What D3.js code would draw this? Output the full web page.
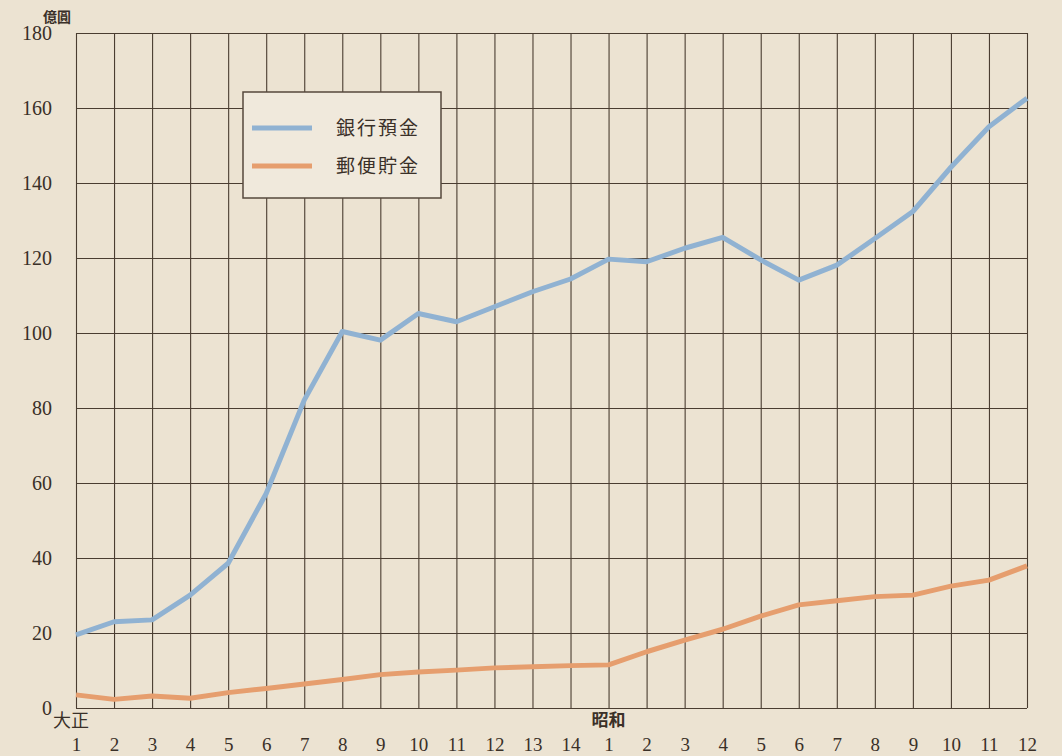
<!DOCTYPE html>
<html>
<head>
<meta charset="utf-8">
<script src="https://cdn.jsdelivr.net/npm/d3@7"></script>
<style>
  body { margin: 0; background: #ece3d2; }
  svg { display: block; }
</style>
</head>
<body>
<div id="chart"><svg width="1062" height="756"></svg></div>
<script>
// years: Taisho 1-14, then Showa 1-12
const TAISHO_YEARS = ['1','2','3','4','5','6','7','8','9','10','11','12','13','14'];
const SHOWA_YEARS = ['1','2','3','4','5','6','7','8','9','10','11','12'];
const ERA_LABELS = ['大正', '昭和'];
const Y_TICKS = [0, 20, 40, 60, 80, 100, 120, 140, 160, 180];

// 億圓
const bankDeposits = [19.5, 23.0, 23.5, 30.1, 38.6, 57.2, 82.1, 100.4, 98.1, 105.2, 103.0, 107.0, 111.0, 114.4,
  119.7, 119.0, 122.6, 125.5, 119.5, 114.1, 118.1, 125.2, 132.4, 144.2, 155.0, 162.6];
const postalSavings = [3.5, 2.3, 3.2, 2.6, 4.1, 5.2, 6.4, 7.6, 8.9, 9.6, 10.1, 10.7, 11.0, 11.3,
  11.5, 15.0, 18.1, 21.0, 24.5, 27.5, 28.6, 29.7, 30.1, 32.5, 34.1, 37.9];
const SERIES_NAMES = ['銀行預金', '郵便貯金'];
const SERIES_COLORS = ['#90b2d2', '#e69e6e'];

const YEAR_LABELS = TAISHO_YEARS.concat(SHOWA_YEARS);
const KEYS = YEAR_LABELS.map((d, i) => i);

const SVG = d3.select('#chart svg');
const LEFT = 76, RIGHT = 1027, TOP = 33, BOTTOM = 708;
const GRID_COLOR = '#4a3d31';
const NUM_FONT = '"Liberation Serif", "DejaVu Serif", serif';
const CJK_FONT = '"Noto Sans CJK JP", sans-serif';

const X_SCALE = d3.scalePoint().domain(KEYS).range([LEFT, RIGHT]);
const Y_SCALE = d3.scaleLinear().domain([0, 180]).range([BOTTOM, TOP]);

// horizontal grid + y labels
const Y_AXIS = d3.axisLeft(Y_SCALE).tickValues(Y_TICKS).tickSize(-(RIGHT - LEFT)).tickPadding(24);
const Y_AXIS_G = SVG.append('g')
  .attr('transform', `translate(${LEFT},0)`)
  .call(Y_AXIS);
Y_AXIS_G.select('.domain').remove();
Y_AXIS_G.selectAll('line').attr('stroke', GRID_COLOR).attr('stroke-width', 1.1);
Y_AXIS_G.selectAll('text')
  .attr('fill', '#3a3028')
  .style('font-family', NUM_FONT)
  .style('font-size', '20px');

// vertical grid + year labels
const X_AXIS = d3.axisBottom(X_SCALE).tickSize(-(BOTTOM - TOP)).tickFormat(i => YEAR_LABELS[i]);
const X_AXIS_G = SVG.append('g')
  .attr('transform', `translate(0,${BOTTOM})`)
  .call(X_AXIS);
X_AXIS_G.select('.domain').remove();
X_AXIS_G.selectAll('line').attr('stroke', GRID_COLOR).attr('stroke-width', 1.1);
X_AXIS_G.selectAll('text')
  .attr('y', 43)
  .attr('dy', null)
  .attr('fill', '#3a3028')
  .style('font-family', NUM_FONT)
  .style('font-size', '19px');

// era labels
SVG.append('text')
  .text(ERA_LABELS[0])
  .attr('x', X_SCALE(0) - 23)
  .attr('y', 727)
  .style('font-family', CJK_FONT)
  .style('font-size', '18px')
  .attr('fill', '#3a3028');
SVG.append('text')
  .text(ERA_LABELS[1])
  .attr('x', X_SCALE(TAISHO_YEARS.length))
  .attr('y', 726)
  .attr('text-anchor', 'middle')
  .style('font-family', CJK_FONT)
  .style('font-size', '17px')
  .style('font-weight', '700')
  .attr('fill', '#3a3028');

// unit
SVG.append('text')
  .text('億圓')
  .attr('x', 43)
  .attr('y', 22)
  .style('font-family', CJK_FONT)
  .style('font-size', '14px')
  .style('font-weight', '700')
  .attr('fill', '#3a3028');

// lines
const LINE = d3.line().x((d, i) => X_SCALE(i)).y(d => Y_SCALE(d));
[bankDeposits, postalSavings].forEach((s, k) => {
  SVG.append('path')
    .attr('d', LINE(s))
    .attr('fill', 'none')
    .attr('stroke', SERIES_COLORS[k])
    .attr('stroke-width', 5)
    .attr('stroke-linejoin', 'round');
});

// legend
const LEGEND = SVG.append('g').attr('transform', 'translate(243,92)');
LEGEND.append('rect')
  .attr('width', 198)
  .attr('height', 106)
  .attr('fill', '#f0e9dc')
  .attr('stroke', '#55483c')
  .attr('stroke-width', 1.5);
SERIES_NAMES.forEach((name, k) => {
  const y = 36 + k * 38;
  LEGEND.append('line')
    .attr('x1', 9).attr('x2', 69)
    .attr('y1', y).attr('y2', y)
    .attr('stroke', SERIES_COLORS[k])
    .attr('stroke-width', 5);
  LEGEND.append('text')
    .text(name)
    .attr('x', 93)
    .attr('y', y + 7)
    .style('font-family', CJK_FONT)
    .style('font-size', '19px')
    .style('letter-spacing', '2px')
    .attr('fill', '#3a3028');
});
</script>
</body>
</html>
